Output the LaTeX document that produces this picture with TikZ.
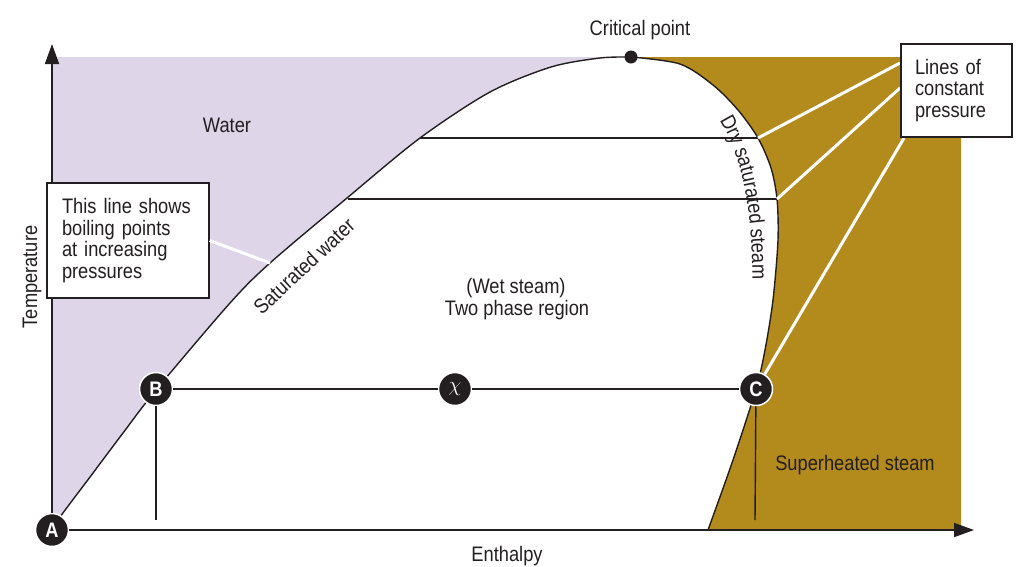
\documentclass[tikz,border=0pt]{standalone}
\usepackage{fontspec}
\setmainfont{Liberation Sans}[FakeStretch=0.87]
\usepackage{tikz}
\usetikzlibrary{arrows.meta,decorations.text}
\definecolor{waterlilac}{HTML}{DED5E9}
\definecolor{steambrown}{HTML}{B38A1C}
\definecolor{inkgray}{HTML}{231F20}
\newcommand{\labelfont}{\fontsize{21}{21.7}\selectfont}
\newcommand{\statepoint}[3]{
    \node[statept] (#1) at (#2) {#3};
}

\begin{document}
\begin{tikzpicture}[x=1pt,y=-1pt,
        every node/.style={font=\labelfont, text=inkgray},
        curveline/.style={draw=inkgray, line width=1.4pt},
        axisline/.style={draw=inkgray, line width=1.8pt, -{Triangle[length=20pt,width=14pt]}},
        whiteline/.style={draw=white, line width=3pt},
        statept/.style={circle, fill=inkgray, draw=white, line width=1.5pt, minimum size=33pt,
            inner sep=0pt, text=white, font=\fontsize{21}{21}\selectfont\bfseries},
        notebox/.style={draw=inkgray, line width=1.3pt, fill=white, align=left, inner ysep=0pt}]
    \useasboundingbox (0,0) rectangle (1024,566);
        \fill[waterlilac] (52,57) -- (52,530) -- plot[smooth] coordinates {
            (52,530) (60,517) (90,477) (123,433) (156,390) (230,303) (270,263)
            (347,198) (420,138) (490,92) (551,67) (600,58) (631,57)} -- cycle;
        \fill[steambrown] (961,57) -- (961,530) -- plot[smooth] coordinates {
            (708,530) (733,460) (756,389) (765,350) (773,300) (778,240) (777,199)
            (771,168) (758,138) (738,110) (713,85) (680,64) (631,57)} -- cycle;
        \coordinate (l1a) at (420,138);
        \coordinate (l1b) at (758,138);
        \coordinate (l2a) at (348,199);
        \coordinate (l2b) at (777,199);
        \coordinate (satw) at (270,263);
        \coordinate (pb1) at (900,63);
        \coordinate (pb2) at (900,88);
        \coordinate (pb3) at (904,138);
        \coordinate (Bfoot) at (156,520);
        \coordinate (Cfoot) at (755,520);
        \coordinate (ytip) at (52,44);
        \coordinate (xtip) at (974,530);
        \draw[curveline] (l1a) -- (l1b);
        \draw[curveline] (l2a) -- (l2b);
        \draw[curveline] plot[smooth] coordinates {
            (52,530) (60,517) (90,477) (123,433) (156,390) (230,303) (270,263)
            (347,198) (420,138) (490,92) (551,67) (600,58) (631,57)};
        \draw[curveline] plot[smooth] coordinates {
            (708,530) (733,460) (756,389) (765,350) (773,300) (778,240) (777,199)
            (771,168) (758,138) (738,110) (713,85) (680,64) (631,57)};
        \node[circle, fill=inkgray, minimum size=13pt, inner sep=0pt] (crit) at (631,57) {};
        \statepoint{A}{52,530}{A}
        \statepoint{B}{156,389}{B}
        \statepoint{chi}{455,389}{$\chi$}
        \statepoint{C}{756,389}{C}
        \draw[axisline] (A) -- (ytip);
        \draw[axisline] (A) -- (xtip);
        \draw[curveline] (B) -- (chi) -- (C);
        \draw[curveline] (B) -- (Bfoot);
        \draw[curveline] (C) -- (Cfoot);
        \draw[whiteline] (pb1) -- (l1b);
        \draw[whiteline] (pb2) -- (l2b);
        \draw[whiteline] (pb3) -- (C);
        \node[notebox, text width=132pt, inner xsep=15pt, minimum height=115pt] (boilbox) at (128,240.5)
            {This line shows\\boiling points\\at increasing\\pressures};
        \draw[whiteline] (boilbox.east) -- (satw);
        \node[notebox, text width=83pt, inner xsep=14pt, minimum height=93pt] (pressbox) at (956.5,90.5)
            {Lines of\\constant\\pressure};
        \node[anchor=base] (critlabel) at (640,35) {Critical point};
        \node[anchor=base] (waterlabel) at (227,132) {Water};
        \node[anchor=base] (wetlabel) at (516,293) {(Wet steam)};
        \node[anchor=base] (twolabel) at (517,315) {Two phase region};
        \node[anchor=base] (superlabel) at (855,470) {Superheated steam};
        \node[anchor=base] (enthlabel) at (507,561) {Enthalpy};
        \node[anchor=base, rotate=90] (templabel) at (37,277) {Temperature};
        \node[rotate=43] (satlabel) at (304,266) {Saturated water};
        \path[decorate, decoration={text along path, text align=center,
            text={|\color{inkgray}\labelfont|Dry saturated steam}}]
            (706,102) .. controls (740,140) and (755,205) .. (752,302);
\end{tikzpicture}
\end{document}
